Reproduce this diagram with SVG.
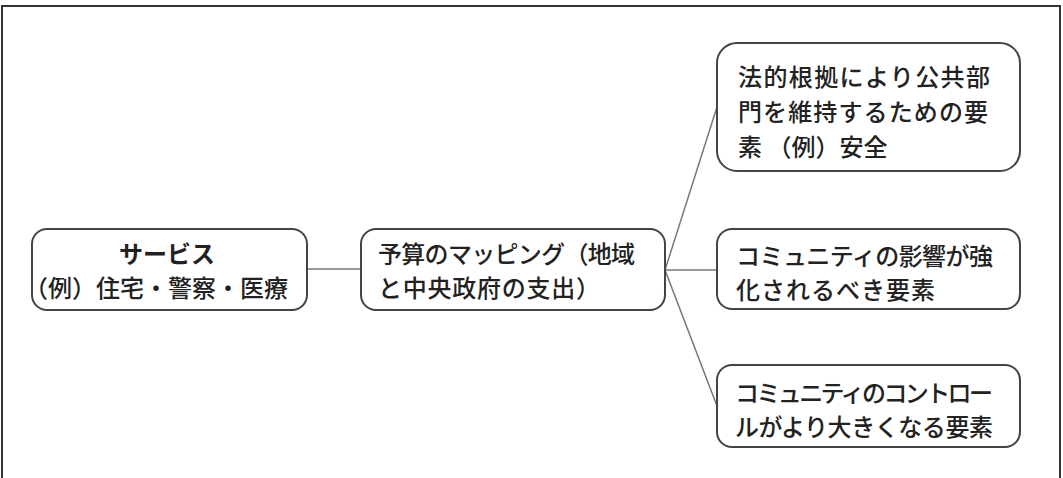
<svg xmlns="http://www.w3.org/2000/svg" width="1063" height="478" viewBox="0 0 1063 478">
<style>
.box{fill:#fff;stroke:#444;stroke-width:2}
.t{font-family:"Noto Sans CJK JP","Noto Sans CJK SC",sans-serif;font-size:24px;font-weight:500;fill:#222}
.b{font-weight:bold}
.c{stroke:#777;stroke-width:1.5;fill:none}
</style>
<rect width="1063" height="478" fill="#fff"/>
<path d="M2,478 V6 H1060 V478" fill="none" stroke="#333" stroke-width="2"/>
<g id="connectors">
<line class="c" x1="307" y1="269" x2="361" y2="269"/>
<line class="c" x1="665" y1="270" x2="717" y2="107"/>
<line class="c" x1="665" y1="270" x2="717" y2="270"/>
<line class="c" x1="665" y1="270" x2="717" y2="406"/>
</g>
<g id="services">
<rect class="box" x="32" y="229" width="275" height="81" rx="15"/>
<text class="t b" x="167" y="263" text-anchor="middle">サービス</text>
<text class="t" x="24" y="297" textLength="264" lengthAdjust="spacing">（例）住宅・警察・医療</text>
</g>
<g id="budget">
<rect class="box" x="361" y="229" width="304" height="81" rx="15"/>
<text class="t" x="378" y="263" textLength="257" lengthAdjust="spacing">予算のマッピング（地域</text>
<text class="t" x="378" y="297" textLength="222" lengthAdjust="spacing">と中央政府の支出）</text>
</g>
<g id="legal">
<rect class="box" x="717" y="43" width="303" height="128" rx="20"/>
<text class="t" x="738" y="86" textLength="252" lengthAdjust="spacing">法的根拠により公共部</text>
<text class="t" x="738" y="121" textLength="250" lengthAdjust="spacing">門を維持するための要</text>
<text class="t" x="738" y="156">素 （例）安全</text>
</g>
<g id="influence">
<rect class="box" x="717" y="229" width="303" height="80" rx="15"/>
<text class="t" x="736" y="265" textLength="257" lengthAdjust="spacing">コミュニティの影響が強</text>
<text class="t" x="736" y="299" textLength="199" lengthAdjust="spacing">化されるべき要素</text>
</g>
<g id="control">
<rect class="box" x="717" y="365" width="303" height="82" rx="15"/>
<text class="t" x="735" y="402" textLength="258" lengthAdjust="spacing">コミュニティのコントロー</text>
<text class="t" x="735" y="436" textLength="258" lengthAdjust="spacing">ルがより大きくなる要素</text>
</g>
</svg>
